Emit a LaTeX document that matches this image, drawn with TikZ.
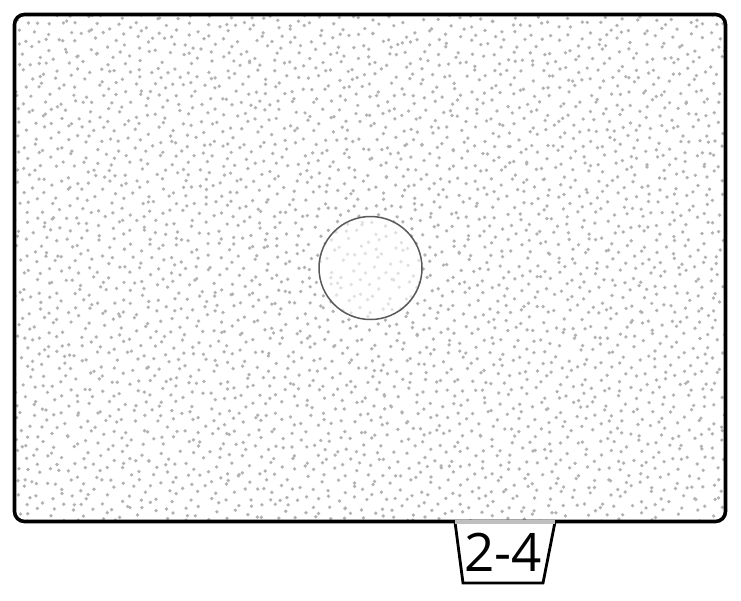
\documentclass[tikz,border=0pt]{standalone}
\usepackage{fontspec}
\setsansfont{Open Sans}
\usepackage{tikz}
\usetikzlibrary{positioning}

\tikzset{
  speck/.style={fill=black!30},
  frame/.style={line width=3.6pt, rounded corners=10pt},
  tabedge/.style={line width=2.8pt, line join=miter},
}

\begin{document}
\begin{tikzpicture}[x=1pt, y=-1pt]
				\useasboundingbox (0,0) rectangle (741,600);
				% tab under the frame
				\coordinate (tl) at (455,522);
				\coordinate (tr) at (555,522);
				\coordinate (br) at (543,583);
				\coordinate (bl) at (463,583);
				% speckled field
				\begin{scope}
					\clip[rounded corners=10pt] (14.5,14.5) rectangle (725.5,521.5);
					\fill[white] (14.5,14.5) rectangle (725.5,521.5);
					\pgfmathsetseed{4242}
					\foreach \i in {1,...,3400} {
						\pgfmathsetmacro\px{12+716*mod(0.5+\i*0.7548777,1)+7*rnd-3.5}
						\pgfmathsetmacro\py{12+512*mod(0.5+\i*0.5698403,1)+7*rnd-3.5}
						\fill[speck] (\px,\py) circle[radius=1.85pt];
					}
				\end{scope}
				\fill[white, opacity=.6] (370.5,268) circle[radius=51.5pt];
				\draw[black!65, line width=1.5pt] (370.5,268) circle[radius=51.5pt];
				\draw[frame] (14.5,14.5) rectangle (725.5,521.5);
				\fill[white] (tl) -- (bl) -- (br) -- (tr) -- cycle;
				\draw[tabedge] (tl) -- (bl) -- (br) -- (tr);
				\draw[black!25, line width=3.6pt] (tl) -- (tr);
				\node (tablabel) at (503,552) {\fontsize{53}{53}\selectfont\sffamily 2-4};
			\end{tikzpicture}
\end{document}
